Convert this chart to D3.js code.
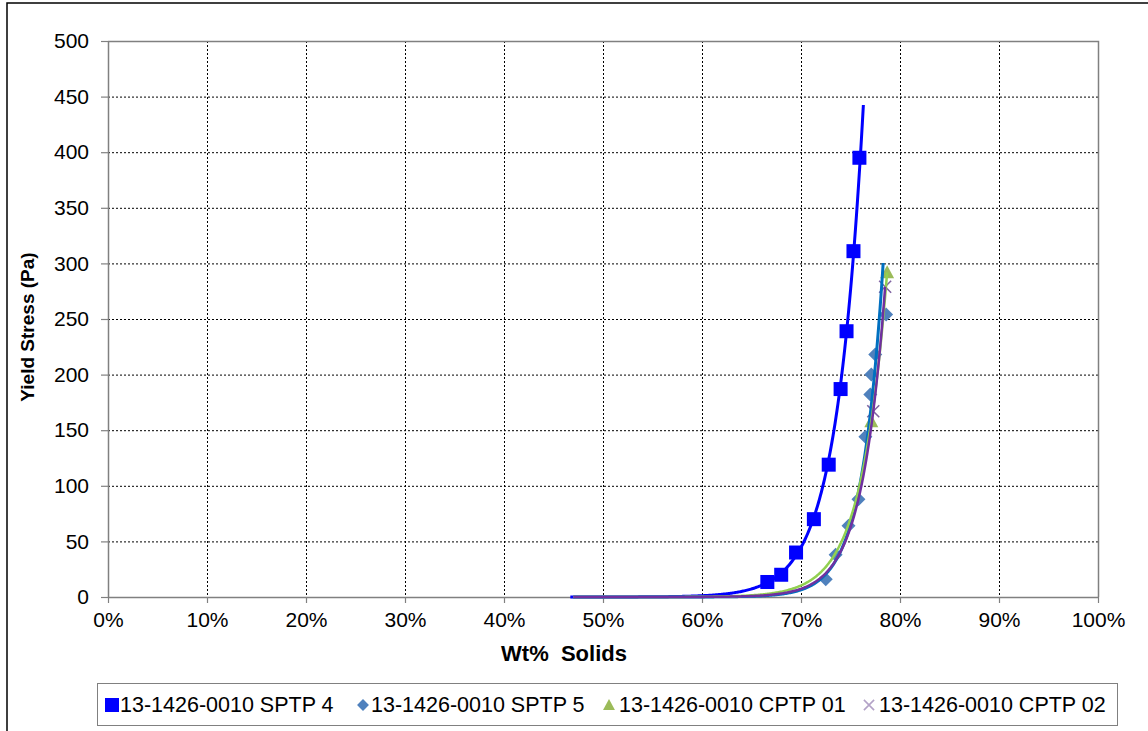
<!DOCTYPE html>
<html>
<head>
<meta charset="utf-8">
<script src="https://cdn.jsdelivr.net/npm/d3@7"></script>
<style>
  html, body { margin: 0; padding: 0; background: #fff; }
  svg { display: block; font-family: "Liberation Sans", Arial, sans-serif; }
</style>
</head>
<body>
<svg id="chart" width="1148" height="731"></svg>
<script>
// Yield stress vs. weight-percent solids for four samples
const seriesNames = [
  "13-1426-0010 SPTP 4",
  "13-1426-0010 SPTP 5",
  "13-1426-0010 CPTP 01",
  "13-1426-0010 CPTP 02"
];
const sptp4Solids = [66.6, 68.0, 69.5, 71.3, 72.8, 74.0, 74.6, 75.3, 75.9];
const sptp4Stress = [13.5, 20, 40, 70, 119, 187, 239, 311, 395];
const sptp5Solids = [72.5, 73.5, 74.8, 75.8, 76.5, 77.0, 77.1, 77.5, 78.6];
const sptp5Stress = [16, 38, 64, 88, 144, 182, 200, 218, 254];
const cptp01Solids = [77.1, 78.7];
const cptp01Stress = [158, 292];
const cptp02Solids = [77.3, 78.5];
const cptp02Stress = [167, 279];
// exponential trendline extents (wt% solids)
const trendFrom = [46.7, 47.0, 47.0, 47.0];
const trendTo = [76.3, 78.3, 78.7, 78.5];

const xTicks = [0, 10, 20, 30, 40, 50, 60, 70, 80, 90, 100];
const yTicks = [0, 50, 100, 150, 200, 250, 300, 350, 400, 450, 500];

const markerColors = ["#0000FF", "#4F81BD", "#9BBB59", "#8064A2"];
const trendColors = ["#0000FF", "#0070C0", "#92D050", "#7030A0"];
const trendWidths = [3, 3, 2.5, 2.5];

const series = [
  { x: sptp4Solids, y: sptp4Stress },
  { x: sptp5Solids, y: sptp5Stress },
  { x: cptp01Solids, y: cptp01Stress },
  { x: cptp02Solids, y: cptp02Stress }
].map((s, i) => ({
  name: seriesNames[i],
  points: s.x.map((v, j) => ({ x: v, y: s.y[j] })),
  color: markerColors[i],
  trendColor: trendColors[i],
  trendWidth: trendWidths[i],
  from: trendFrom[i],
  to: trendTo[i],
  kind: i
}));

const svg = d3.select("#chart");

// outer chart frame (extends past the visible area on right/bottom)
svg.append("rect")
  .attr("x", 7).attr("y", 3).attr("width", 1160).attr("height", 760)
  .attr("fill", "#fff").attr("stroke", "#000").attr("stroke-width", 1.5);

const plot = { left: 108, top: 41, right: 1098, bottom: 597 };
const x = d3.scaleLinear().domain([0, 100]).range([plot.left, plot.right]);
const y = d3.scaleLinear().domain([0, 500]).range([plot.bottom, plot.top]);

// gridlines
const grid = svg.append("g");
grid.selectAll("line.h").data(yTicks.filter(t => t > 0 && t < 500)).join("line")
  .attr("x1", plot.left).attr("x2", plot.right)
  .attr("y1", d => y(d) + 0.5).attr("y2", d => y(d) + 0.5)
  .attr("stroke", "#000").attr("stroke-width", 1).attr("stroke-dasharray", "2,2");
grid.selectAll("line.v").data(xTicks.filter(t => t > 0 && t < 100)).join("line")
  .attr("y1", plot.top).attr("y2", plot.bottom)
  .attr("x1", d => x(d) + 0.5).attr("x2", d => x(d) + 0.5)
  .attr("stroke", "#000").attr("stroke-width", 1).attr("stroke-dasharray", "2,2");

// plot border top & right
svg.append("path")
  .attr("d", `M${plot.left},${plot.top + 0.5}H${plot.right + 0.5}V${plot.bottom}`)
  .attr("fill", "none").attr("stroke", "#808080").attr("stroke-width", 1.5);

// axes
const xAxis = d3.axisBottom(x).tickValues(xTicks).tickFormat(d => d + "%")
  .tickSizeInner(6).tickSizeOuter(0).tickPadding(4);
const yAxis = d3.axisLeft(y).tickValues(yTicks)
  .tickSizeInner(7).tickSizeOuter(0).tickPadding(12);

const gx = svg.append("g").attr("transform", `translate(0,${plot.bottom})`).call(xAxis);
const gy = svg.append("g").attr("transform", `translate(${plot.left},0)`).call(yAxis);
[gx, gy].forEach(g => {
  g.select(".domain").attr("stroke", "#808080").attr("stroke-width", 1.5);
  g.selectAll(".tick line").attr("stroke", "#808080").attr("stroke-width", 1.2);
  g.selectAll(".tick text").attr("fill", "#000")
    .style("font-size", "21px").style("font-family", "'Liberation Sans', Arial, sans-serif");
});
gx.selectAll(".tick text").attr("dy", "0.95em");

// axis titles
svg.append("text")
  .attr("x", 564).attr("y", 661).attr("text-anchor", "middle")
  .style("font-size", "22px").style("font-weight", "bold")
  .attr("xml:space", "preserve")
  .text("Wt%  Solids");
svg.append("text")
  .attr("transform", `translate(34,327) rotate(-90)`)
  .attr("text-anchor", "middle")
  .style("font-size", "19px").style("font-weight", "bold")
  .text("Yield Stress (Pa)");

// marker shapes
function drawMarker(g, kind, cx, cy, color, scale = 1) {
  if (kind === 0) {
    const s = 14 * scale;
    g.append("rect").attr("x", cx - s / 2).attr("y", cy - s / 2)
      .attr("width", s).attr("height", s).attr("fill", color);
  } else if (kind === 1) {
    const r = 7 * scale;
    g.append("path")
      .attr("d", `M${cx},${cy - r}L${cx + r},${cy}L${cx},${cy + r}L${cx - r},${cy}Z`)
      .attr("fill", color);
  } else if (kind === 2) {
    const r = 7 * scale;
    g.append("path")
      .attr("d", `M${cx},${cy - r}L${cx + r},${cy + r * 0.85}L${cx - r},${cy + r * 0.85}Z`)
      .attr("fill", color);
  } else {
    const r = 6 * scale;
    g.append("path")
      .attr("d", `M${cx - r},${cy - r}L${cx + r},${cy + r}M${cx - r},${cy + r}L${cx + r},${cy - r}`)
      .attr("stroke", color).attr("stroke-width", 1.6).attr("fill", "none");
  }
}

// data markers
const marks = svg.append("g");
series.forEach(s => {
  s.points.forEach(p => drawMarker(marks, s.kind, x(p.x), y(p.y), s.color));
});

// exponential least-squares trendlines (ln y = ln a + b x)
function expFit(points) {
  const n = points.length;
  const xs = points.map(p => p.x), ls = points.map(p => Math.log(p.y));
  const mx = d3.mean(xs), ml = d3.mean(ls);
  let sxy = 0, sxx = 0;
  for (let i = 0; i < n; i++) { sxy += (xs[i] - mx) * (ls[i] - ml); sxx += (xs[i] - mx) ** 2; }
  const b = sxy / sxx, lnA = ml - b * mx;
  return v => Math.exp(lnA + b * v);
}
const trendLine = d3.line().x(d => x(d[0])).y(d => y(d[1]));
const trends = svg.append("g");
series.forEach(s => {
  const f = expFit(s.points);
  const pts = d3.range(0, 301).map(i => {
    const v = s.from + (s.to - s.from) * i / 300;
    return [v, f(v)];
  });
  trends.append("path").attr("d", trendLine(pts))
    .attr("fill", "none").attr("stroke", s.trendColor)
    .attr("stroke-width", s.trendWidth).attr("stroke-linejoin", "round");
});

// legend
const lg = svg.append("g");
lg.append("rect").attr("x", 97.5).attr("y", 683.5).attr("width", 1020).attr("height", 42)
  .attr("fill", "#fff").attr("stroke", "#808080").attr("stroke-width", 1);
const legendMarkX = [112, 363, 609, 869];
const legendTextX = [120, 371, 619, 879];
const legendColors = ["#0000FF", "#4F81BD", "#9BBB59", "#B3A2C7"];
series.forEach((s, i) => {
  drawMarker(lg, s.kind, legendMarkX[i], 705, legendColors[i], i === 0 ? 1 : 0.85);
  lg.append("text").attr("x", legendTextX[i]).attr("y", 712)
    .style("font-size", "21.5px").text(s.name);
});
</script>
</body>
</html>
